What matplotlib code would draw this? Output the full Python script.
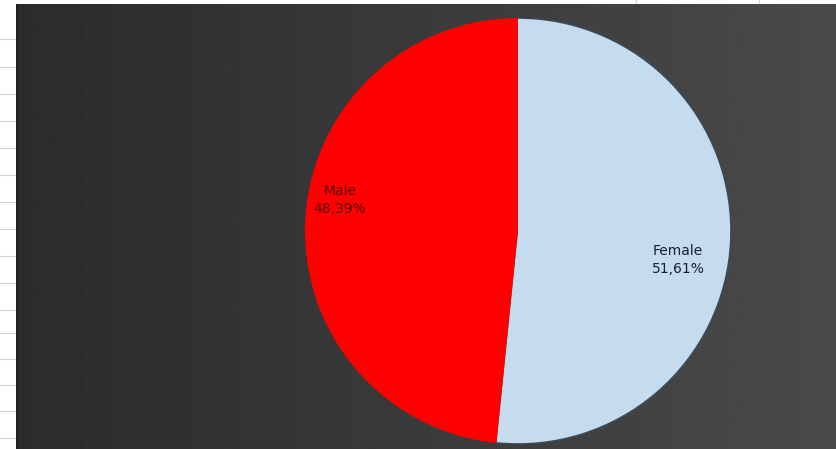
import numpy as np
import matplotlib.pyplot as plt
from matplotlib.patches import Arc

# data
labels = ['Female', 'Male']
shares = [51.61, 48.39]
colors = ['#c5dcef', '#ff0000']
label_colors = ['#1a1f2e', '#5a0a0a']

W, H = 836, 449
fig = plt.figure(figsize=(W / 100, H / 100), dpi=100)
fig.patch.set_facecolor('white')

# spreadsheet grid peeking out on the left/top
grid_ax = fig.add_axes([0, 0, 1, 1])
grid_ax.set_xlim(0, W)
grid_ax.set_ylim(H, 0)
grid_ax.axis('off')
for gy in [39, 67, 94, 121, 148, 175, 202, 229, 256, 283, 310, 333, 359, 385, 411, 438]:
    grid_ax.plot([0, 16], [gy, gy], color='#d4d4d4', lw=0.8)
for gx in [636, 759]:
    grid_ax.plot([gx, gx], [0, 4], color='#d4d4d4', lw=0.8)

# dark gradient chart area
bg = fig.add_axes([16 / W, 0, 1 - 16 / W, 1 - 4 / H])
bg.axis('off')
xs = np.linspace(0, 1, 400)
row = 0.17 + 0.12 * xs
grad = np.tile(row, (50, 1))
bg.imshow(grad, cmap='gray', vmin=0, vmax=1, aspect='auto', extent=[0, 1, 0, 1])
bg.set_xlim(0, 1)
bg.set_ylim(0, 1)
bg.plot([0, 0], [0, 1], color='#202020', lw=3)

# pie
cx, cy, r = 518, 231, 213
ax = fig.add_axes([(cx - r) / W, 1 - (cy + r) / H, 2 * r / W, 2 * r / H])
ax.set_aspect('equal')
wedges, texts = ax.pie(shares, colors=colors, startangle=90, counterclock=False,
                       labels=[f'{l}\n{v:.2f}%'.replace('.', ',') for l, v in zip(labels, shares)],
                       labeldistance=0.78,
                       wedgeprops=dict(edgecolor='none', linewidth=0),
                       textprops=dict(fontsize=10, ha='center', va='center'))
# thin dark rim on the light slice only (outer arc)
w = wedges[0]
ax.add_patch(Arc((0, 0), 2, 2, theta1=w.theta1, theta2=w.theta2,
                 color='#3a4a5a', lw=1.2))
ax.set_xlim(-1, 1)
ax.set_ylim(-1, 1)
texts[0].set_position((0.751, -0.136))
texts[1].set_position((-0.836, 0.146))
for t, c in zip(texts, label_colors):
    t.set_color(c)
    t.set_linespacing(1.4)

fig.savefig('out.png', dpi=100, facecolor=fig.get_facecolor())
